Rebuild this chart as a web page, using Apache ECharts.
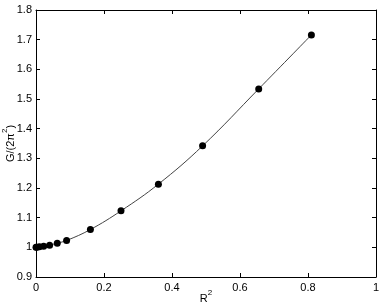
<!DOCTYPE html>
<html>
<head>
<meta charset="utf-8">
<script src="https://cdn.jsdelivr.net/npm/echarts@6/dist/echarts.min.js"></script>
<style>html,body{margin:0;padding:0;background:#fff}#c{width:382px;height:305px}</style>
</head>
<body>
<div id="c"></div>
<script>
var r2 = [0, 0.0025, 0.01, 0.0225, 0.04, 0.0625, 0.09, 0.16, 0.25, 0.36, 0.49, 0.655, 0.81];
var g = [1.0, 1.0005, 1.002, 1.004, 1.007, 1.014, 1.023, 1.06, 1.123, 1.213, 1.342, 1.534, 1.716];
var xTicks = [0, 0.2, 0.4, 0.6, 0.8, 1];
var yTicks = [0.9, 1, 1.1, 1.2, 1.3, 1.4, 1.5, 1.6, 1.7, 1.8];

var pts = r2.map(function (x, i) { return [x, g[i]]; });
var font = 'Liberation Sans, Arial, sans-serif';
var chart = echarts.init(document.getElementById('c'));
function axisCommon(show) {
  return {
    axisLine: { show: true, onZero: false, lineStyle: { color: '#000', width: 1 } },
    axisTick: { show: true, inside: true, length: 4, lineStyle: { color: '#000' } },
    axisLabel: { show: show, color: '#000', fontSize: 11, fontFamily: font, margin: 5 },
    splitLine: { show: false }
  };
}
var richStyle = {
  main: { fontSize: 11, fontFamily: font, color: '#000', lineHeight: 15, verticalAlign: 'bottom' },
  sup: { fontSize: 8, fontFamily: font, color: '#000', lineHeight: 15, verticalAlign: 'top' }
};
var xa = Object.assign(axisCommon(true), {
  type: 'value', min: 0, max: 1, interval: 0.2, position: 'bottom',
  name: '{main|R}{sup|2}', nameLocation: 'middle', nameGap: 12, nameMoveOverlap: false,
  nameTextStyle: { color: '#000', fontSize: 11, fontFamily: font, lineHeight: 15, rich: richStyle }
});
var xa2 = Object.assign(axisCommon(false), { type: 'value', min: 0, max: 1, interval: 0.2, position: 'top' });
var ya = Object.assign(axisCommon(true), {
  type: 'value', min: 0.9, max: 1.8, interval: 0.1, position: 'left',
  name: '{main|G/(2π}{sup|2}{main|)}', nameLocation: 'middle', nameGap: 20, nameRotate: 90, nameMoveOverlap: false,
  nameTextStyle: { color: '#000', fontSize: 11, fontFamily: font, lineHeight: 15, rich: richStyle }
});
ya.axisLabel.margin = 4;
var ya2 = Object.assign(axisCommon(false), { type: 'value', min: 0.9, max: 1.8, interval: 0.1, position: 'right' });

chart.setOption({
  animation: false,
  backgroundColor: '#fff',
  grid: { left: 36, right: 6, top: 10, bottom: 28, containLabel: false, outerBoundsMode: 'none' },
  xAxis: [xa, xa2],
  yAxis: [ya, ya2],
  series: [
    { type: 'line', data: pts, smooth: 0.4, showSymbol: false, symbol: 'none',
      lineStyle: { color: '#444', width: 1 }, xAxisIndex: 0, yAxisIndex: 0, z: 1 },
    { type: 'scatter', data: pts, symbol: 'circle', symbolSize: 7,
      itemStyle: { color: '#000', opacity: 1 }, xAxisIndex: 0, yAxisIndex: 0, z: 2 }
  ]
});
</script>
</body>
</html>
